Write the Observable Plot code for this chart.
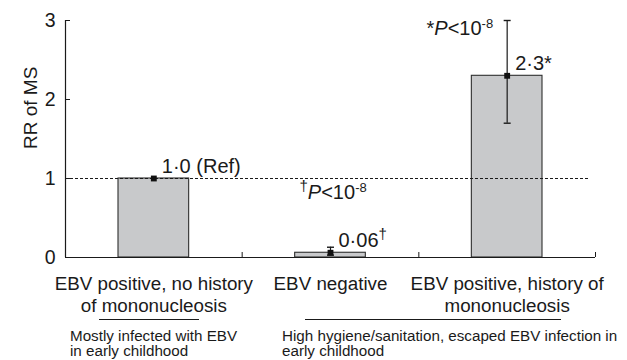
<!DOCTYPE html>
<html>
<head>
<meta charset="utf-8">
<script src="https://cdn.jsdelivr.net/npm/d3@7"></script>
<script src="https://cdn.jsdelivr.net/npm/@observablehq/plot@0.6"></script>
<style>
  body { margin: 0; background: #fff; }
  #wrap { position: relative; width: 627px; height: 360px; font-family: "Liberation Sans", Arial, sans-serif; color: #1a1a1a; }
  #wrap svg { position: absolute; left: 0; top: 0; }
  .grp-line { position: absolute; height: 0; border-top: 1px solid #1a1a1a; }
  .grp-note { position: absolute; font-size: 15.2px; line-height: 15px; white-space: pre; }
</style>
</head>
<body>
<div id="wrap"></div>
<script>
// ---- data ----
const categories = [
  "EBV positive, no history\nof mononucleosis",
  "EBV negative",
  "EBV positive, history of\nmononucleosis"
];
const rr = [1.0, 0.06, 2.3];
const ciLow = [1.0, 0.03, 1.7];
const ciHigh = [1.0, 0.13, 3.0];
const valueLabels = ["1·0 (Ref)", "0·06†", "2·3*"];
const pNotes = ["", "†P<10-8", "*P<10-8"];
const yTicks = [0, 1, 2, 3];
const yLabel = "RR of MS";
const groupNotes = [
  "Mostly infected with EBV\nin early childhood",
  "High hygiene/sanitation, escaped EBV infection in\nearly childhood"
];

// ---- table ----
const data = categories.map((c, i) => ({
  pos: i + 0.5, cat: c, rr: rr[i], lo: ciLow[i], hi: ciHigh[i],
  label: valueLabels[i], note: pNotes[i], idx: i
}));
const withCI = data.filter(d => d.hi > d.lo);
const half = 0.2; // half bar width, in band units
const capSymbol = { draw(ctx) { ctx.moveTo(-3.5, 0); ctx.lineTo(3.5, 0); } };
const ink = "#1a1a1a";

const chart = Plot.plot({
  width: 627, height: 360,
  marginTop: 20, marginBottom: 103, marginLeft: 65, marginRight: 32,
  style: { fontFamily: '"Liberation Sans", Arial, sans-serif', fontSize: "18px", color: ink, background: "transparent", overflow: "visible" },
  x: { domain: [0, categories.length] },
  y: { domain: [0, 3] },
  marks: [
    Plot.rectY(data, { x1: d => d.pos - half, x2: d => d.pos + half, y: "rr", fill: "#c8c9cb", stroke: "#2e2e2e", strokeWidth: 1.1 }),
    Plot.ruleY([1], { stroke: ink, strokeDasharray: "3,2", strokeWidth: 1, insetRight: 7 }),
    Plot.ruleX(withCI, { x: "pos", y1: "lo", y2: "hi", stroke: ink, strokeWidth: 1.2 }),
    Plot.dot(withCI, { x: "pos", y: "lo", symbol: capSymbol, stroke: ink, fill: "none", strokeWidth: 1.4 }),
    Plot.dot(withCI, { x: "pos", y: "hi", symbol: capSymbol, stroke: ink, fill: "none", strokeWidth: 1.4 }),
    Plot.dot(data, { x: "pos", y: "rr", symbol: "square", r: 3.3, fill: "#111", stroke: null }),
    Plot.text(data, { x: "pos", y: "rr", text: "label", textAnchor: "start", dx: 8, dy: -12, fontSize: 20, fill: ink }),
    Plot.text(data.filter(d => d.idx === 2), { x: "pos", y: "hi", text: "note", textAnchor: "end", dx: -14, dy: 8, fontSize: 20, fill: ink }),
    Plot.text(data.filter(d => d.idx === 1), { x: "pos", y: "rr", text: "note", textAnchor: "start", dx: -31, dy: -60, fontSize: 20, fill: ink }),
    Plot.ruleX([0], { stroke: ink, strokeWidth: 1.2 }),
    Plot.ruleY([0], { stroke: ink, strokeWidth: 1.2 }),
    Plot.axisY({ ticks: yTicks, tickFormat: d => String(d), tickSize: -5, tickPadding: 15, fontSize: 19.5, label: null, stroke: ink }),
    Plot.axisX({ ticks: d3.range(categories.length + 1), tickSize: -5, tickFormat: () => "", label: null, stroke: ink }),
    Plot.axisX({ ticks: data.map(d => d.pos), tickSize: 0, tickPadding: 17.5, tickFormat: t => categories[Math.floor(t)], fontSize: 18.8, lineHeight: 1.15, label: null }),
    Plot.text([yLabel], { frameAnchor: "left", dx: -35, dy: 10, rotate: -90, fontSize: 19, fill: ink })
  ]
});

// italic P, superscript daggers and exponents
const NS = "http://www.w3.org/2000/svg";
chart.querySelectorAll("text").forEach(t => {
  const s = t.textContent;
  if (t.children.length || !/†|P</.test(s)) return;
  const parts = s.split(/(†|P(?=<)|-\d+$)/).filter(p => p !== "");
  t.textContent = "";
  parts.forEach(p => {
    if (p === "†" || /^-\d+$/.test(p)) {
      const sup = document.createElementNS(NS, "tspan");
      sup.setAttribute("font-size", p === "†" ? "15" : "13");
      sup.setAttribute("baseline-shift", "super");
      sup.textContent = p;
      t.appendChild(sup);
    } else if (p === "P") {
      const it = document.createElementNS(NS, "tspan");
      it.setAttribute("font-style", "italic");
      it.textContent = p;
      t.appendChild(it);
    } else {
      t.appendChild(document.createTextNode(p));
    }
  });
});

const wrap = document.getElementById("wrap");
wrap.appendChild(chart);

// group brackets and their notes below the axis
const groupLayout = [
  { line: [99, 100], note: [70, 328] },
  { line: [305, 256], note: [282, 328] }
];
groupNotes.forEach((txt, i) => {
  const L = groupLayout[i];
  const ln = document.createElement("div");
  ln.className = "grp-line";
  ln.style.left = L.line[0] + "px"; ln.style.top = "319px"; ln.style.width = L.line[1] + "px";
  wrap.appendChild(ln);
  const nt = document.createElement("div");
  nt.className = "grp-note";
  nt.style.left = L.note[0] + "px"; nt.style.top = L.note[1] + "px";
  nt.textContent = txt;
  wrap.appendChild(nt);
});
</script>
</body>
</html>
